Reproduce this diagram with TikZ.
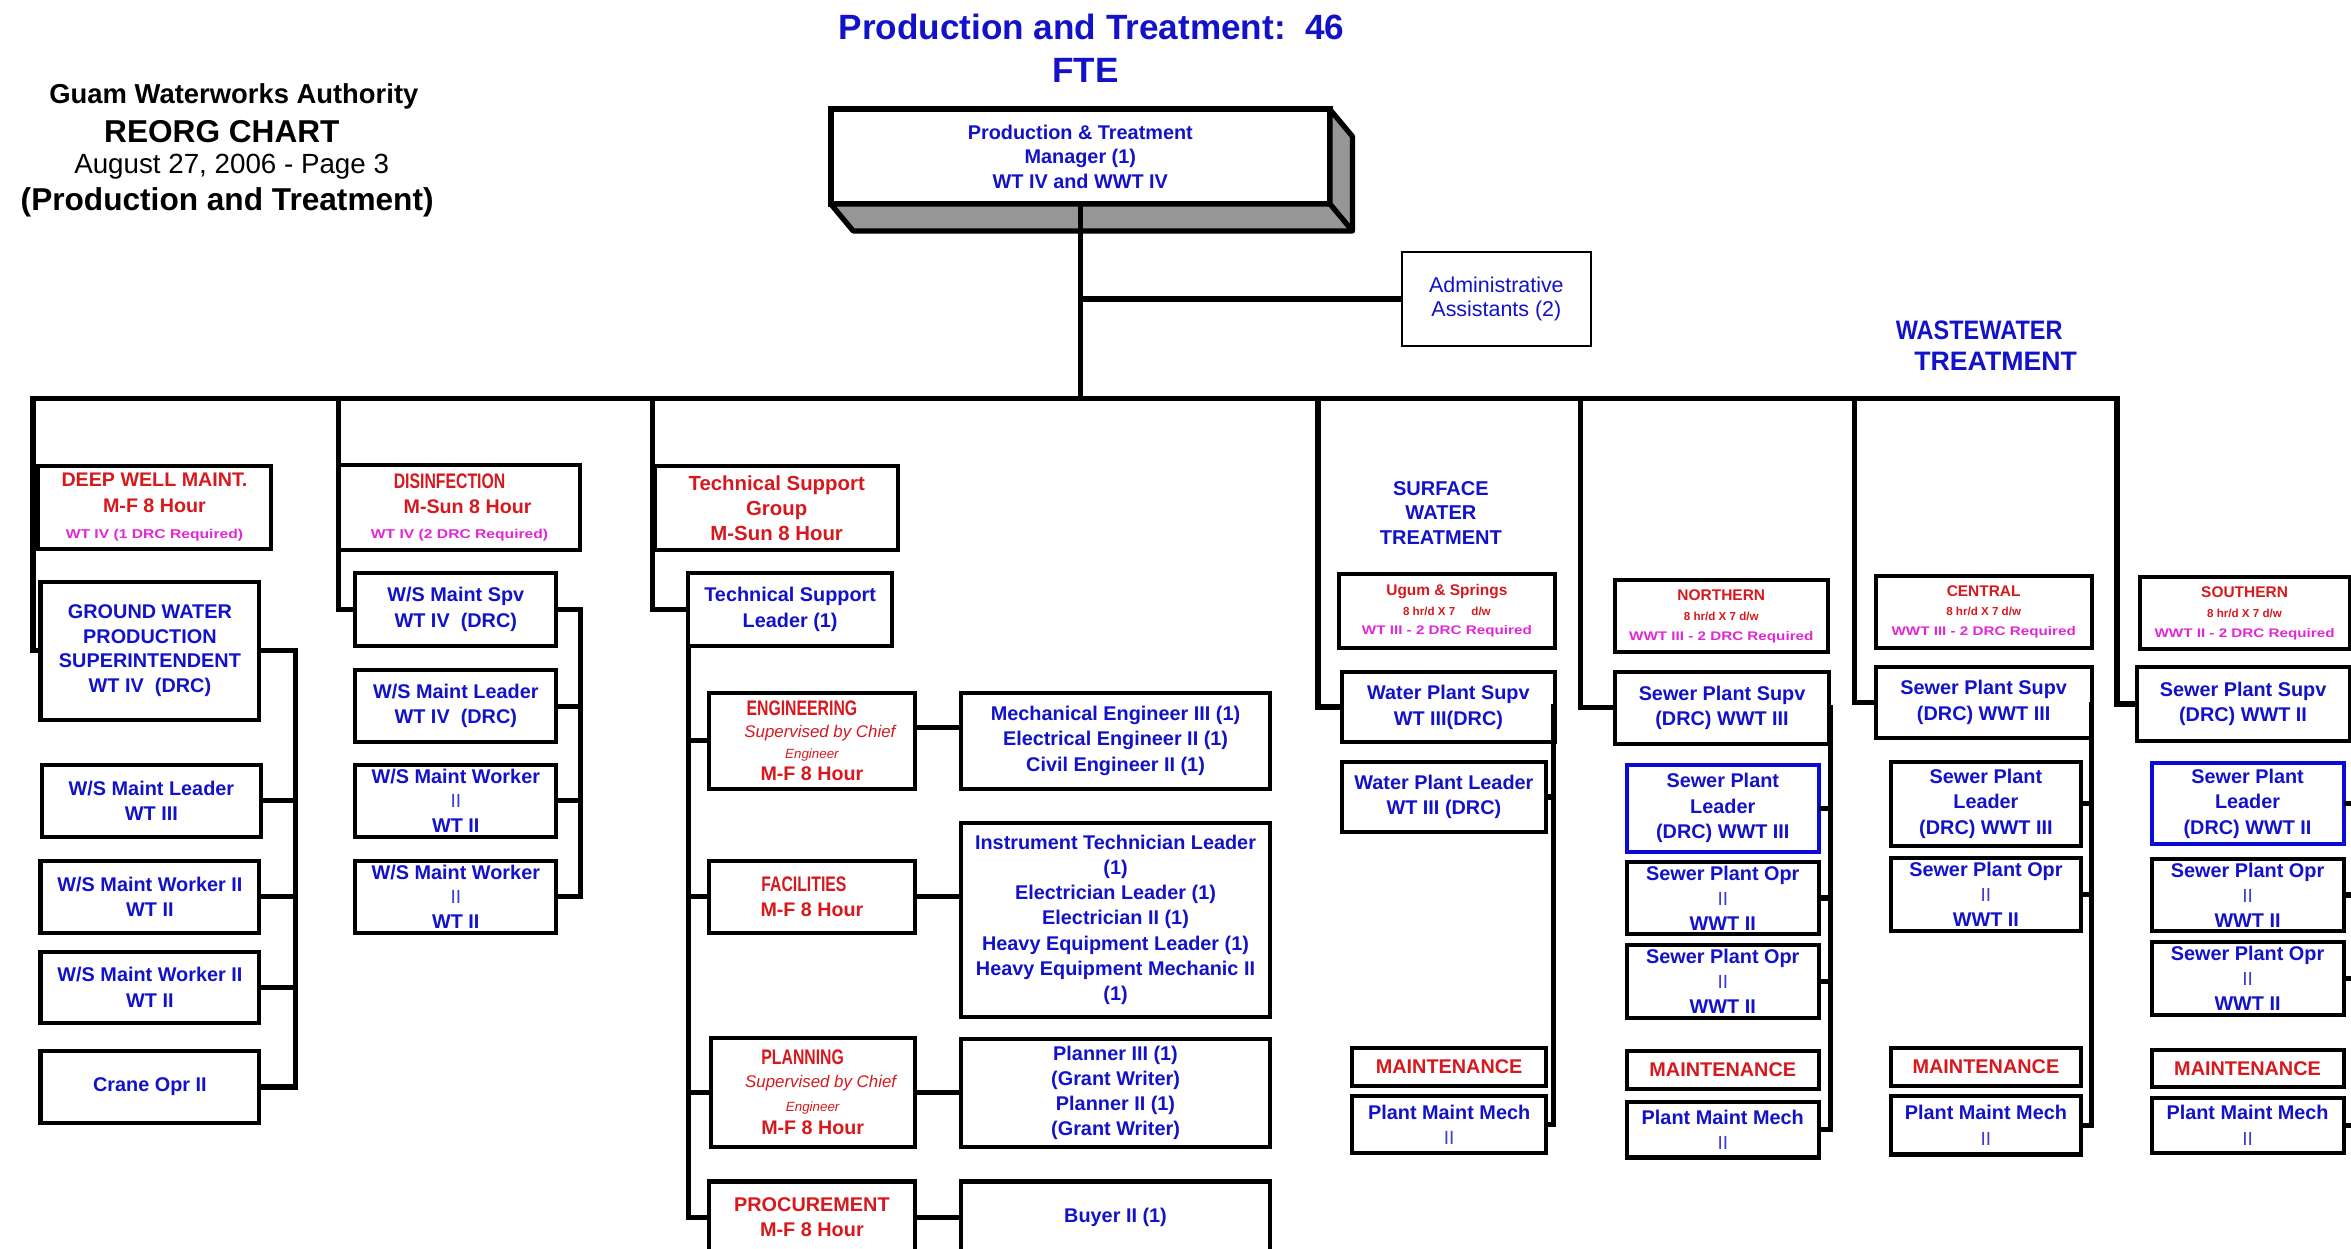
\documentclass[tikz,border=0pt]{standalone}
\usepackage{fontspec}
\usepackage{graphicx}
\setmainfont{Liberation Sans}
\newfontfamily\narfam[FakeStretch=0.75]{Liberation Sans}
\newfontfamily\widefam[FakeStretch=1.22]{Liberation Sans}
\definecolor{tblue}{RGB}{18,18,200}
\definecolor{lblue}{RGB}{60,60,210}
\definecolor{tred}{RGB}{215,25,30}
\definecolor{tmag}{RGB}{225,40,215}
\definecolor{shade}{RGB}{150,150,150}
\definecolor{bblue}{RGB}{10,10,215}

\newcommand\fz[2]{\fontsize{#1}{#2}\selectfont}
\newcommand\twobar{{\mdseries\color{lblue}\fz{5.4}{5}II}}
\newcommand\magtxt[2][3.65]{\textcolor{tmag}{\widefam\bfseries\fz{#1}{5}#2}}
\newcommand\hrs[1]{{\fz{3.3}{5.9}#1}}

% box from corner (x1,y1) to (x2,y2), with its text centred inside
\newcommand\cell[8][]{%
  \node[box,#1,minimum width={(#5-(#3))*0.15mm},minimum height={(#6-(#4))*0.15mm}] (#2) at ({(#3+#5)/2},{(#4+#6)/2}) {};
  \node[txt,#7] (#2-t) at (#2.center) {#8};}

\begin{document}
\begin{tikzpicture}[x=0.15mm,y=-0.15mm,
  box/.style={draw,line width=1.15pt,rectangle,inner sep=0pt,outer sep=0pt,fill=white},
  bbox/.style={draw=bblue},
  thinbox/.style={line width=0.5pt},
  txt/.style={inner sep=0pt,align=center,text=tblue,font=\bfseries\fz{5.65}{7.2}},
  rt/.style={text=tred},
  hdr/.style={text=tred,font=\bfseries\fz{4.4}{5.6}},
  conn/.style={line width=1.5pt,line join=miter},
  plain/.style={inner sep=0pt,align=center}]
\useasboundingbox (0,0) rectangle (1568,833);
\clip (0,0) rectangle (1568,833);

% ---------- titles ----------
\node[plain,font=\bfseries\fz{7.8}{9}] (g1) at (156,64) {Guam Waterworks Authority};
\node[plain,font=\bfseries\fz{9}{10}] (g2) at (148,88) {REORG CHART};
\node[plain,font=\fz{7.9}{9}] (g3) at (154.5,111) {August 27, 2006 - Page 3};
\node[plain,font=\bfseries\fz{9}{10}] (g4) at (151.5,135) {(Production and Treatment)};
\node[plain,text=tblue,font=\bfseries\fz{10}{12}] (ttl) at (728,18) {Production and Treatment:\ \ 46};
\node[plain,text=tblue,font=\bfseries\fz{10}{12}] (fte) at (724,47) {FTE};

% ---------- manager (raised box) ----------
\cell[line width=1.7pt]{mgr}{554}{73}{887}{136}{font=\bfseries\fz{5.65}{7}}{Production \& Treatment\\Manager (1)\\WT IV and WWT IV}
\filldraw[fill=shade,line width=1.5pt,line join=round]
  (mgr.south west) -- ++(15,18) -| ([shift={(15,18)}]mgr.north east) -- (mgr.north east) -- (mgr.south east) -- cycle;
\draw[line width=1.5pt] (mgr.south east) -- ++(15,18);

\cell[thinbox]{adm}{935}{168}{1061}{231}{font=\fz{6.1}{6.8}}{Administrative\\Assistants (2)}

% ---------- deep well column ----------
\cell{dwm}{25}{311}{181}{366}{rt,font=\bfseries\fz{5.6}{7.4}}{DEEP WELL MAINT.\\M-F 8 Hour\\\magtxt{WT IV (1 DRC Required)}}
\cell{gw}{27}{388}{173}{480}{font=\bfseries\fz{5.65}{6.95}}{GROUND WATER\\PRODUCTION\\SUPERINTENDENT\\WT IV~~(DRC)}
\cell{wsl}{28}{510}{174}{558}{}{W/S Maint Leader\\WT III}
\cell{wsw1}{27}{574}{173}{622}{}{W/S Maint Worker II\\WT II}
\cell{wsw2}{27}{635}{173}{682}{}{W/S Maint Worker II\\WT II}
\cell{crane}{27}{701}{173}{749}{}{Crane Opr II}

% ---------- disinfection column ----------
\cell{dis}{226}{310}{387}{367}{rt,font=\bfseries\fz{5.6}{7.2}}{{\narfam\fz{6}{7.2}DISINFECTION}\hspace*{2mm}\\\hspace*{1.6mm}M-Sun 8 Hour\\\magtxt{WT IV (2 DRC Required)}}
\cell{wsspv}{237}{382}{371}{431}{}{W/S Maint Spv\\WT IV~~(DRC)}
\cell{wsld}{237}{447}{371}{495}{}{W/S Maint Leader\\WT IV~~(DRC)}
\cell{wsk1}{237}{510}{371}{558}{font=\bfseries\fz{5.65}{6.9}}{W/S Maint Worker\\\twobar\\WT II}
\cell{wsk2}{237}{574}{371}{622}{font=\bfseries\fz{5.65}{6.9}}{W/S Maint Worker\\\twobar\\WT II}

% ---------- technical support column ----------
\cell{tsg}{437}{311}{599}{367}{rt,font=\bfseries\fz{5.8}{7.1}}{Technical Support\\Group\\M-Sun 8 Hour}
\cell{tsl}{459}{382}{595}{431}{}{Technical Support\\Leader (1)}
\cell{eng}{473}{462}{610}{526}{rt,font=\bfseries\fz{5.6}{6.1}}{{\narfam\fz{6}{6.1}ENGINEERING}\hspace*{2mm}\\\hspace*{1.6mm}{\mdseries\itshape\fz{4.8}{6.1}Supervised by Chief}\\{\mdseries\itshape\fz{3.8}{6.1}Engineer}\\M-F 8 Hour}
\cell{mech}{641}{462}{847}{526}{}{Mechanical Engineer III (1)\\Electrical Engineer II (1)\\Civil Engineer II (1)}
\cell{fac}{473}{574}{610}{622}{rt,font=\bfseries\fz{5.6}{7.2}}{{\narfam\fz{6}{7.2}FACILITIES}\hspace*{1.6mm}\\M-F 8 Hour}
\cell{inst}{641}{549}{847}{678}{font=\bfseries\fz{5.65}{7.15}}{Instrument Technician Leader\\(1)\\Electrician Leader (1)\\Electrician II (1)\\Heavy Equipment Leader (1)\\Heavy Equipment Mechanic II\\(1)}
\cell{plan}{474}{692}{610}{765}{rt,font=\bfseries\fz{5.6}{6.7}}{{\narfam\fz{6}{6.7}PLANNING}\hspace*{2mm}\\\hspace*{1.6mm}{\mdseries\itshape\fz{4.8}{6.7}Supervised by Chief}\\{\mdseries\itshape\fz{3.8}{6.7}Engineer}\\M-F 8 Hour}
\cell{planr}{641}{693}{847}{765}{font=\bfseries\fz{5.65}{7.1}}{Planner III (1)\\(Grant Writer)\\Planner II (1)\\(Grant Writer)}
\cell{proc}{473}{788}{610}{836}{rt}{PROCUREMENT\\M-F 8 Hour}
\cell{buyer}{641}{788}{847}{836}{}{Buyer II (1)}

% ---------- surface water treatment ----------
\node[txt,font=\bfseries\fz{5.7}{7}] (swt) at (961,342) {SURFACE\\WATER\\TREATMENT};
\cell{ugum}{893}{383}{1037}{432}{hdr}{Ugum \& Springs\\\hrs{8 hr/d X 7\hspace{1.3mm} d/w}\\\magtxt[3.55]{WT III - 2 DRC Required}}
\cell{wps}{895}{448}{1037}{495}{font=\bfseries\fz{5.65}{7.4}}{Water Plant Supv\\WT III(DRC)}
\cell{wpl}{895}{508}{1031}{555}{}{Water Plant Leader\\WT III (DRC)}
\cell{wmt}{902}{699}{1031}{724}{rt}{MAINTENANCE}
\cell{wpm}{902}{731}{1031}{769}{}{Plant Maint Mech\\\twobar}

% ---------- wastewater treatment ----------
\node[plain,text=tblue,font=\bfseries\fz{7.6}{9}] (ww1) at (1320,220) {\scalebox{0.88}[1]{WASTEWATER}};
\node[plain,text=tblue,font=\bfseries\fz{7.6}{9}] (ww2) at (1331,241) {TREATMENT};

\cell{nor}{1077}{387}{1219}{435}{hdr}{NORTHERN\\\hrs{8 hr/d X 7 d/w}\\\magtxt[3.55]{WWT III - 2 DRC Required}}
\cell{nsup}{1077}{448}{1220}{496}{}{Sewer Plant Supv\\(DRC) WWT III}
\cell[bbox]{nld}{1085}{510}{1213}{568}{}{Sewer Plant\\Leader\\(DRC) WWT III}
\cell{nop1}{1085}{575}{1213}{623}{}{Sewer Plant Opr\\\twobar\\WWT II}
\cell{nop2}{1085}{630}{1213}{679}{}{Sewer Plant Opr\\\twobar\\WWT II}
\cell{nmt}{1085}{701}{1213}{726}{rt}{MAINTENANCE}
\cell{npm}{1085}{735}{1213}{772}{}{Plant Maint Mech\\\twobar}

\cell{cen}{1251}{384}{1395}{432}{hdr}{CENTRAL\\\hrs{8 hr/d X 7 d/w}\\\magtxt[3.55]{WWT III - 2 DRC Required}}
\cell{csup}{1251}{445}{1395}{492}{}{Sewer Plant Supv\\(DRC) WWT III}
\cell{cld}{1261}{508}{1388}{564}{}{Sewer Plant\\Leader\\(DRC) WWT III}
\cell{cop}{1261}{572}{1388}{621}{}{Sewer Plant Opr\\\twobar\\WWT II}
\cell{cmt}{1261}{699}{1388}{724}{rt}{MAINTENANCE}
\cell{cpm}{1261}{731}{1388}{770}{}{Plant Maint Mech\\\twobar}

\cell{sou}{1427}{385}{1567}{433}{hdr}{SOUTHERN\\\hrs{8 hr/d X 7 d/w}\\\magtxt[3.55]{WWT II - 2 DRC Required}}
\cell{ssup}{1425}{445}{1567}{494}{}{Sewer Plant Supv\\(DRC) WWT II}
\cell[bbox]{sld}{1435}{509}{1563}{563}{}{Sewer Plant\\Leader\\(DRC) WWT II}
\cell{sop1}{1435}{573}{1563}{621}{}{Sewer Plant Opr\\\twobar\\WWT II}
\cell{sop2}{1435}{628}{1563}{677}{}{Sewer Plant Opr\\\twobar\\WWT II}
\cell{smt}{1435}{700}{1563}{725}{rt}{MAINTENANCE}
\cell{spm}{1435}{732}{1563}{769}{}{Plant Maint Mech\\\twobar}

% ---------- connectors ----------
\coordinate (b1) at (22,266);
\coordinate (b2) at (226,266);
\coordinate (b3) at (435,266);
\coordinate (b5) at (879,266);
\coordinate (b6) at (1054,266);
\coordinate (b7) at (1237,266);
\coordinate (b8) at (1412,266);

\draw[conn] (mgr.south) -- (mgr.south |- b1);
\draw[conn] (mgr.south |- adm.west) -- (adm.west);
\draw[conn] (gw.west) -| (b1) -- (b8) |- (ssup.west);
\draw[conn] (b2) |- (wsspv.west);
\draw[conn] (b3) |- (tsl.west);
\draw[conn] (b5) |- (wps.west);
\draw[conn] (b6) |- (nsup.west);
\draw[conn] (b7) |- (csup.west);

% side brackets
\coordinate (k1) at (197,0);
\draw[conn] (gw.east) -- (gw.east -| k1) -- (crane.east -| k1) -- (crane.east);
\foreach \n in {wsl,wsw1,wsw2} \draw[conn] (\n.east) -- (\n.east -| k1);

\coordinate (k2) at (387,0);
\draw[conn] (wsspv.east) -- (wsspv.east -| k2) -- (wsk2.east -| k2) -- (wsk2.east);
\foreach \n in {wsld,wsk1} \draw[conn] (\n.east) -- (\n.east -| k2);

\draw[conn] (tsl.south west) |- (proc.west);
\foreach \n in {eng,fac,plan} \draw[conn] (\n.west -| tsl.south west) -- (\n.west);
\draw[conn] ([yshift=1.35mm]eng.east) -- ([yshift=1.35mm]mech.west);
\draw[conn] (fac.east) -- (fac.east -| inst.west);
\draw[conn] (plan.east) -- (plan.east -| planr.west);
\draw[conn] (proc.east) -- (buyer.west);

\coordinate (k5) at (1036,0);
\draw[conn] (wps.east) -- (wps.east -| k5) -- (wpm.east -| k5) -- (wpm.east);
\draw[conn] (wpl.east) -- (wpl.east -| k5);

\coordinate (k6) at (1221,0);
\draw[conn] (nsup.east) -- (nsup.east -| k6) -- (npm.east -| k6) -- (npm.east);
\foreach \n in {nld,nop1,nop2} \draw[conn] (\n.east) -- (\n.east -| k6);

\coordinate (k7) at (1395,0);
\draw[conn] (csup.east) -- (csup.east -| k7) -- (cpm.east -| k7) -- (cpm.east);
\foreach \n in {cld,cop} \draw[conn] (\n.east) -- (\n.east -| k7);

\coordinate (k8) at (1571,0);
\draw[conn] (ssup.east) -- (ssup.east -| k8) -- (spm.east -| k8) -- (spm.east);
\foreach \n in {sld,sop1,sop2} \draw[conn] (\n.east) -- (\n.east -| k8);
\end{tikzpicture}
\end{document}
